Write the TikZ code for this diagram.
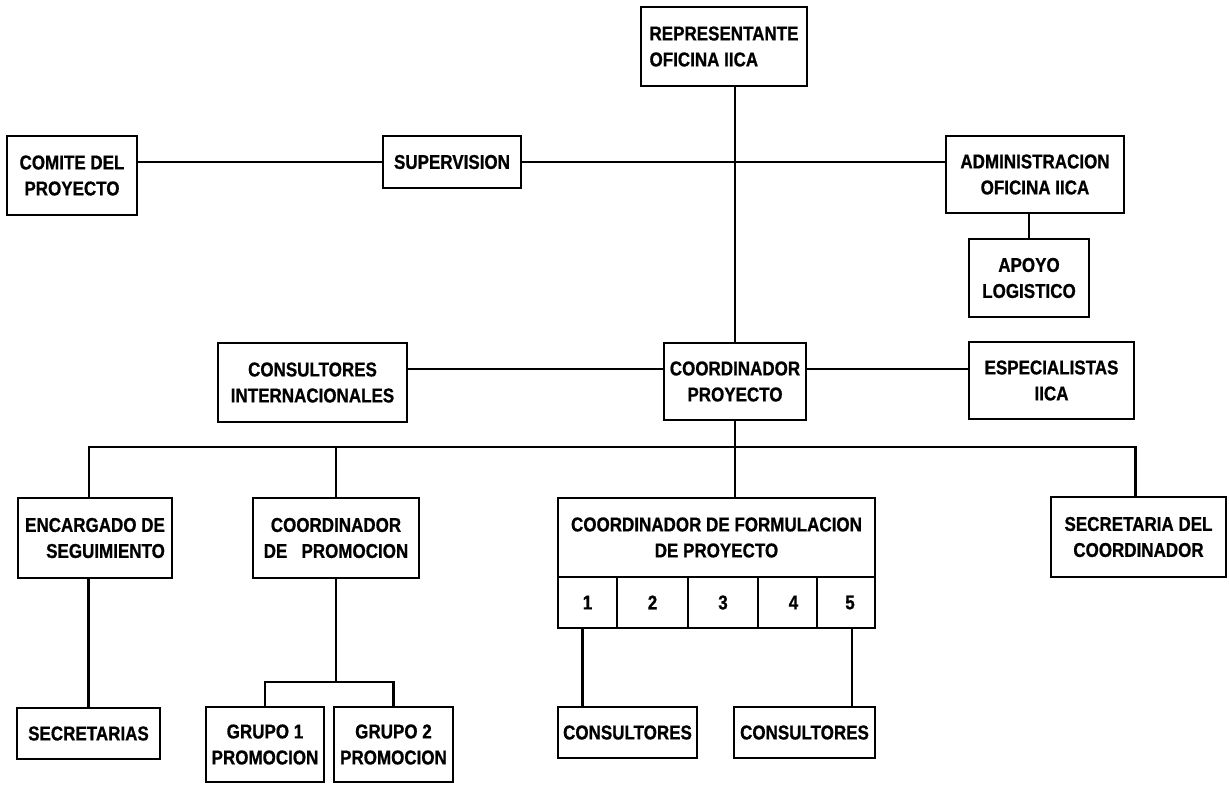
\documentclass[tikz,border=0pt]{standalone}
\usepackage{fontspec}
\setmainfont{Liberation Sans}[FakeStretch=0.85,BoldFeatures={FakeBold=0.8}]

\begin{document}
\begin{tikzpicture}[x=1pt,y=-1pt,line width=2.6pt,
    box/.style={rectangle,draw,inner sep=2pt,align=center,font=\bfseries\fontsize{20}{26}\selectfont}]

                \useasboundingbox (0,0) rectangle (1229,785);

                \node[box, minimum width = 166, minimum height = 79, align=left] (rep) at (724,46.5) {REPRESENTANTE\\OFICINA IICA};
                \node[box, minimum width = 130, minimum height = 79] (comite) at (72,175.5) {COMITE DEL\\PROYECTO};
                \node[box, minimum width = 138, minimum height = 52] (superv) at (452,162) {SUPERVISION};
                \node[box, minimum width = 178, minimum height = 77] (admin) at (1035,174.5) {ADMINISTRACION\\OFICINA IICA};
                \node[box, minimum width = 120, minimum height = 78] (apoyo) at (1029,278) {APOYO\\LOGISTICO};

                \node[box, minimum width = 189, minimum height = 79] (consint) at (312.5,382.5) {CONSULTORES\\INTERNACIONALES};
                \node[box, minimum width = 142, minimum height = 77] (coordp) at (735,381.5) {COORDINADOR\\PROYECTO};
                \node[box, minimum width = 165, minimum height = 77] (espec) at (1051.5,380.5) {ESPECIALISTAS\\IICA};

                \node[box, minimum width = 154, minimum height = 80, align=right] (encarg) at (95,538) {ENCARGADO DE\\SEGUIMIENTO};
                \node[box, minimum width = 166, minimum height = 80] (coordprom) at (336,538) {COORDINADOR\\DE\ \ \ PROMOCION};
                \node[box, minimum width = 317, minimum height = 79] (formul) at (716.5,537.5) {COORDINADOR DE FORMULACION\\DE PROYECTO};
                \node[box, minimum width = 175, minimum height = 80] (secdel) at (1138.5,537) {SECRETARIA DEL\\COORDINADOR};

                \node[box, minimum width = 59, minimum height = 51] (c1) at (587.5,602.5) {1};
                \node[box, minimum width = 71, minimum height = 51] (c2) at (652.5,602.5) {2};
                \node[box, minimum width = 70, minimum height = 51] (c3) at (723,602.5) {3};
                \node[box, minimum width = 59, minimum height = 51] (c4) at (787.5,602.5) {\hspace{12pt}4};
                \node[box, minimum width = 58, minimum height = 51] (c5) at (846,602.5) {\hspace{8pt}5};

                \node[box, minimum width = 143, minimum height = 51] (secret) at (88.5,733.5) {SECRETARIAS};
                \node[box, minimum width = 118, minimum height = 75] (grupo1) at (265,744.5) {GRUPO 1\\PROMOCION};
                \node[box, minimum width = 119, minimum height = 75] (grupo2) at (393.5,744.5) {GRUPO 2\\PROMOCION};
                \node[box, minimum width = 139, minimum height = 51] (cons1) at (627.5,732.5) {CONSULTORES};
                \node[box, minimum width = 141, minimum height = 51] (cons2) at (804.5,732.5) {CONSULTORES};

                \coordinate (hl) at (735,369);
                \coordinate (bus) at (735,447);
                \coordinate (gbar) at (336,682);

                \draw (rep.south -| coordp.north) -- (coordp.north);
                \draw (comite.east |- superv.west) -- (superv.west);
                \draw (superv.east) -- (superv.east -| admin.west);
                \draw (admin.south -| apoyo.north) -- (apoyo.north);
                \draw (consint.east |- hl) -- (coordp.west |- hl);
                \draw (coordp.east |- hl) -- (espec.west |- hl);

                \draw ([xshift=-6pt]encarg.north) |- (bus) -| ([xshift=-3pt]secdel.north);
                \draw (coordprom.north) -- (coordprom.north |- bus);
                \draw (coordp.south) -- (coordp.south |- formul.north);

                \draw (secret.north |- encarg.south) -- (secret.north);
                \draw (coordprom.south) -- (gbar);
                \draw (grupo1.north) |- (gbar) -| (grupo2.north);
                \draw ([xshift=-5pt]c1.south) -- ([xshift=-5pt]c1.south |- cons1.north);
                \draw ([xshift=6pt]c5.south) -- ([xshift=6pt]c5.south |- cons2.north);
            \end{tikzpicture}
\end{document}
